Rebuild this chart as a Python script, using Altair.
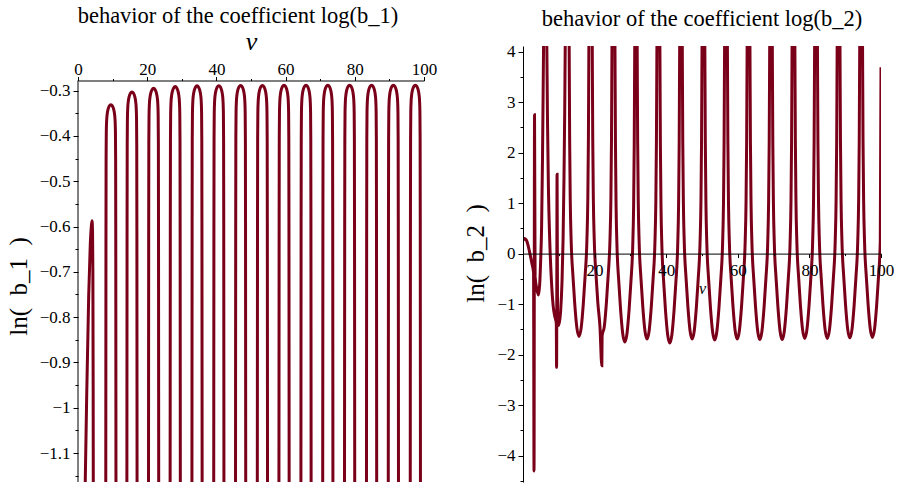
import altair as alt
import pandas as pd

FONT = "Liberation Serif"
LINE = "#7A0019"

# ---------------- left panel: ln(b_1) ----------------
# first (irregular) hump, read point by point
b1_first_v = [1.8, 2.5, 3.1, 3.55, 3.85, 4.05, 4.2, 4.3, 4.38, 4.45]
b1_first_y = [-1.3, -0.98, -0.75, -0.64, -0.60, -0.587, -0.61, -0.70, -0.95, -1.3]
# remaining humps: peak position and peak height
b1_peak_v = [9.5, 15.6, 21.85, 28.1, 34.4, 40.7, 47.0, 53.3, 59.55, 65.9, 72.2, 78.5, 84.85, 91.15, 97.5]
b1_peak_y = [-0.331, -0.303, -0.295, -0.291, -0.2895, -0.289, -0.2885, -0.2885,
             -0.288, -0.288, -0.288, -0.288, -0.288, -0.288, -0.288]
# shape of one hump (offset from its peak)
b1_cap_dv = [-1.52, -1.48, -1.42, -1.38, -1.32, -1.22, -1.05, -0.80, -0.45, 0.0,
             0.45, 0.80, 1.05, 1.22, 1.32, 1.38, 1.42, 1.48, 1.52]
b1_cap_dy = [-1.3, -0.95, -0.30, -0.12, -0.06, -0.035, -0.020, -0.010, -0.003, 0.0,
             -0.003, -0.010, -0.020, -0.035, -0.06, -0.12, -0.30, -0.95, -1.3]
# extent of the drawn ln(b_1) axis
b1_axis_top = [-0.2775]
b1_axis_bottom = [-1.164]

# ---------------- right panel: ln(b_2) ----------------
b2_first_v = [0.0, 0.45, 1.0, 1.5, 2.0, 2.5, 2.95, 3.08, 3.22, 3.38, 3.8, 4.3, 4.65, 4.95,
              5.2, 5.45, 5.75, 6.2, 6.65, 6.85, 7.1, 7.45, 7.95, 8.45, 8.9, 9.3, 9.38, 9.52,
              9.65, 10.0, 10.5, 10.9, 11.2, 11.45, 11.65, 11.8]
b2_first_y = [0.26, 0.30, 0.26, 0.14, -0.02, -0.20, -0.38, -4.3, 2.75, -0.45, -0.68, -0.82, -0.62, -0.10,
              0.55, 1.9, 4.15, 7.0, 4.15, 2.6, 1.3, 0.3, -0.55, -1.05, -1.25, -1.38, -2.25, 1.57,
              -1.3, -1.42, -1.15, -0.55, 0.3, 1.5, 2.8, 4.15]
b2_valley_v = [15.65, 22.1, 28.45, 34.65, 41.0, 47.25, 53.55, 59.85, 66.15, 72.4, 78.7, 85.0, 91.3, 97.6]
b2_valley_y = [-1.64, -1.62, -1.75, -1.69, -1.77, -1.69, -1.71, -1.69, -1.70, -1.70, -1.68, -1.68, -1.67, -1.66]
b2_peak_v = [12.3, 18.9, 25.25, 31.55, 37.8, 44.1, 50.4, 56.7, 63.0, 69.25, 75.55, 81.85, 88.15, 94.45]
b2_peak_y = [7.0, 7.0, 7.0, 7.0, 7.0, 7.0, 7.0, 7.0, 7.0, 7.0, 7.0, 7.0, 7.0, 7.0]
# shape of one valley side (offset from the valley)
b2_side_dv = [0.6, 1.2, 1.7, 2.2, 2.45, 2.62, 2.76]
b2_side_dy = [0.17, 0.65, 1.2, 1.9, 2.7, 3.9, 5.85]
b2_spike_v = [22.02]
b2_spike_y = [-2.22]
b2_end_v = [100.0]
b2_end_y = [3.69]

# tick values
x_ticks = [0, 10, 20, 30, 40, 50, 60, 70, 80, 90, 100]
y1_ticks = [-1.15, -1.1, -1.05, -1.0, -0.95, -0.9, -0.85, -0.8, -0.75, -0.7, -0.65,
            -0.6, -0.55, -0.5, -0.45, -0.4, -0.35, -0.3]
y2_ticks = [-4.5, -4, -3.5, -3, -2.5, -2, -1.5, -1, -0.5, 0, 0.5, 1, 1.5, 2, 2.5, 3, 3.5, 4]

# ---------- tables ----------
rows1 = list(zip(b1_first_v, b1_first_y))
for pv, py in zip(b1_peak_v, b1_peak_y):
    for dv, dy in zip(b1_cap_dv, b1_cap_dy):
        rows1.append((pv + dv, py + dy))
df1 = pd.DataFrame(rows1, columns=["v", "y"]).sort_values("v").reset_index(drop=True)
df1["i"] = range(len(df1))
df1_axis = pd.DataFrame({"y": b1_axis_top, "y2": b1_axis_bottom})

rows2 = list(zip(b2_first_v, b2_first_y))
for vv, vy in zip(b2_valley_v, b2_valley_y):
    rows2.append((vv, vy))
    for dv, dy in zip(b2_side_dv, b2_side_dy):
        rows2.append((vv - dv, vy + dy))
        if vv + dv < 100:
            rows2.append((vv + dv, vy + dy))
rows2 += list(zip(b2_peak_v, b2_peak_y))
rows2 += list(zip(b2_spike_v, b2_spike_y))
rows2 += list(zip(b2_end_v, b2_end_y))
df2 = pd.DataFrame(rows2, columns=["v", "y"]).sort_values("v").reset_index(drop=True)
df2["i"] = range(len(df2))

common_axis = dict(
    grid=False, domainColor="black", tickColor="black", labelColor="black",
    titleColor="black", labelFont=FONT, titleFont=FONT, titleFontWeight="normal",
    labelFontSize=17, labelFlush=False, labelOverlap=False, domainWidth=1, tickWidth=1,
    zindex=1,
)
YTITLE1 = "ln(\u00a0\u00a0b_1\u00a0\u00a0)"
YTITLE2 = "ln(\u00a0\u00a0b_2\u00a0\u00a0)"

# ---------- left chart ----------
x1_scale = alt.Scale(domain=[0, 100], nice=False, zero=False)
y1_scale = alt.Scale(domain=[-1.164, -0.2015], nice=False, zero=False)
x1_axis = alt.Axis(orient="top", values=x_ticks, offset=-34.5,
                   labelExpr="datum.value % 20 == 0 ? datum.label : ''",
                   tickSize={"condition": {"test": "datum.value % 20 == 0", "value": 4}, "value": 2},
                   labelPadding=-2, title="v", titleFontStyle="italic",
                   titleFontSize=26, titlePadding=6, **common_axis)
y1_axis = alt.Axis(values=y1_ticks, domain=False,
                   labelExpr="abs(datum.value*10 - round(datum.value*10)) < 0.001 ? format(datum.value, '~g') : ''",
                   tickSize={"condition": {"test": "abs(datum.value*10 - round(datum.value*10)) < 0.001", "value": 5}, "value": 3},
                   labelPadding=3, title=YTITLE1, titleFontSize=25, titleY=240,
                   titlePadding=8, **common_axis)
left_line = alt.Chart(df1).mark_line(
    clip=True, color=LINE, strokeWidth=3, interpolate="monotone"
).encode(
    x=alt.X("v:Q", scale=x1_scale, axis=x1_axis),
    y=alt.Y("y:Q", scale=y1_scale, axis=y1_axis),
    order="i:Q",
)
left_axis_line = alt.Chart(df1_axis).mark_rule(color="black", strokeWidth=1).encode(
    x=alt.value(0), y=alt.Y("y:Q", scale=y1_scale, axis=y1_axis), y2="y2:Q"
)
left = alt.layer(left_line, left_axis_line).properties(
    width=346, height=436,
    title=alt.TitleParams("behavior of the coefficient log(b_1)", font=FONT, fontSize=22.5,
                          fontWeight="normal", color="black", anchor="middle", dx=-13, offset=1),
)

# ---------- right chart ----------
right = alt.Chart(df2).mark_line(
    clip=True, color=LINE, strokeWidth=3, interpolate="monotone"
).encode(
    x=alt.X("v:Q", scale=alt.Scale(domain=[0, 100], nice=False, zero=False),
            axis=alt.Axis(orient="bottom", values=x_ticks, offset=-228.4,
                          labelExpr="datum.value % 20 == 0 && datum.value != 0 ? datum.label : ''",
                          tickSize={"condition": {"test": "datum.value % 20 == 0", "value": 4}, "value": 2},
                          labelPadding=5, title="v", titleFontStyle="italic",
                          titleFontSize=16, titlePadding=2, **common_axis)),
    y=alt.Y("y:Q", scale=alt.Scale(domain=[-4.52, 4.11], nice=False, zero=False),
            axis=alt.Axis(values=y2_ticks,
                          labelExpr="datum.value % 1 == 0 ? format(datum.value, '~g') : ''",
                          tickSize={"condition": {"test": "datum.value % 1 == 0", "value": 5}, "value": 3},
                          labelPadding=3, title=YTITLE2, titleFontSize=25, titleY=207,
                          titlePadding=8, **common_axis)),
    order="i:Q",
).properties(
    width=358, height=436,
    title=alt.TitleParams("behavior of the coefficient log(b_2)", font=FONT, fontSize=22.5,
                          fontWeight="normal", color="black", anchor="middle", offset=12),
)

chart = alt.hconcat(left, right, spacing=26).configure_view(stroke=None).properties(
    padding={"left": 6, "top": 5, "right": 0, "bottom": 0}, background="white"
)

chart.save("out.html", embed_options={"renderer": "svg", "actions": False})
